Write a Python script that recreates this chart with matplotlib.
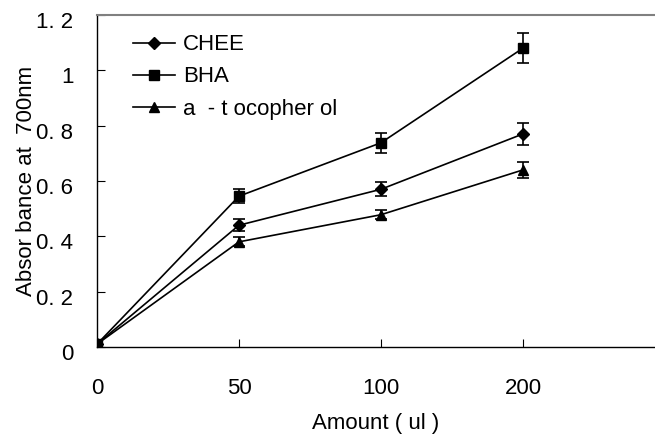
import matplotlib
matplotlib.use("Agg")
import matplotlib.pyplot as plt
import matplotlib.transforms as mtransforms

plt.rcParams['font.family'] = ['Liberation Sans', 'DejaVu Sans']

# data
amounts = ["0", "50", "100", "200"]
chee = [0.01, 0.44, 0.57, 0.77]
chee_err = [0.0, 0.022, 0.026, 0.04]
bha = [0.01, 0.545, 0.738, 1.08]
bha_err = [0.0, 0.025, 0.036, 0.055]
toco = [0.01, 0.38, 0.478, 0.64]
toco_err = [0.0, 0.016, 0.016, 0.03]
yticks = [0, 0.2, 0.4, 0.6, 0.8, 1.0, 1.2]
ytick_labels = ["0", "0. 2", "0. 4", "0. 6", "0. 8", "1", "1. 2"]

fs = 16

fig = plt.figure(figsize=(6.55, 4.34), dpi=100)
ax = fig.add_axes([0.148, 0.2005, 0.852, 0.765])

x = list(range(len(amounts)))
style = dict(color="black", lw=1.2, capsize=4.5, elinewidth=1.2, capthick=1.2)
ax.errorbar(x, chee, yerr=chee_err, marker="D", ms=6.5, label="CHEE", **style)
ax.errorbar(x, bha, yerr=bha_err, marker="s", ms=6.5, label="BHA", **style)
ax.errorbar(x, toco, yerr=toco_err, marker="^", ms=7.5, label="a  - t ocopher ol", **style)

ax.set_xlim(0, 3.93)
ax.set_ylim(0, 1.2)
ax.set_xticks(x)
ax.set_xticklabels(amounts)
ax.set_yticks(yticks)
ax.set_yticklabels(ytick_labels)
ax.tick_params(direction="in", length=6, width=0.8, labelsize=fs)
ax.tick_params(axis="x", pad=22)
ax.tick_params(axis="y", pad=17)

# excel-style labels sit a little below their ticks
offset = mtransforms.ScaledTranslation(0, -5 / 100, fig.dpi_scale_trans)
for lab in ax.get_yticklabels():
    lab.set_transform(lab.get_transform() + offset)

ax.spines["right"].set_visible(False)
ax.spines["top"].set_color("#808080")
ax.spines["top"].set_linewidth(1.5)
for s in ("left", "bottom"):
    ax.spines[s].set_linewidth(1.0)

ax.set_xlabel("Amount ( ul )", fontsize=fs)
ax.xaxis.set_label_coords(0.5, -0.2)
ax.set_ylabel("Absor bance at  700nm", fontsize=fs)
ax.yaxis.set_label_coords(-0.108, 0.5)

handles, labels = ax.get_legend_handles_labels()
handles = [h[0] for h in handles]
ax.legend(handles, labels, loc="upper left", bbox_to_anchor=(0.045, 0.975),
          frameon=False, fontsize=fs, handlelength=1.9, handletextpad=0.35,
          labelspacing=0.5, borderpad=0)

fig.savefig("out.png", dpi=100)
